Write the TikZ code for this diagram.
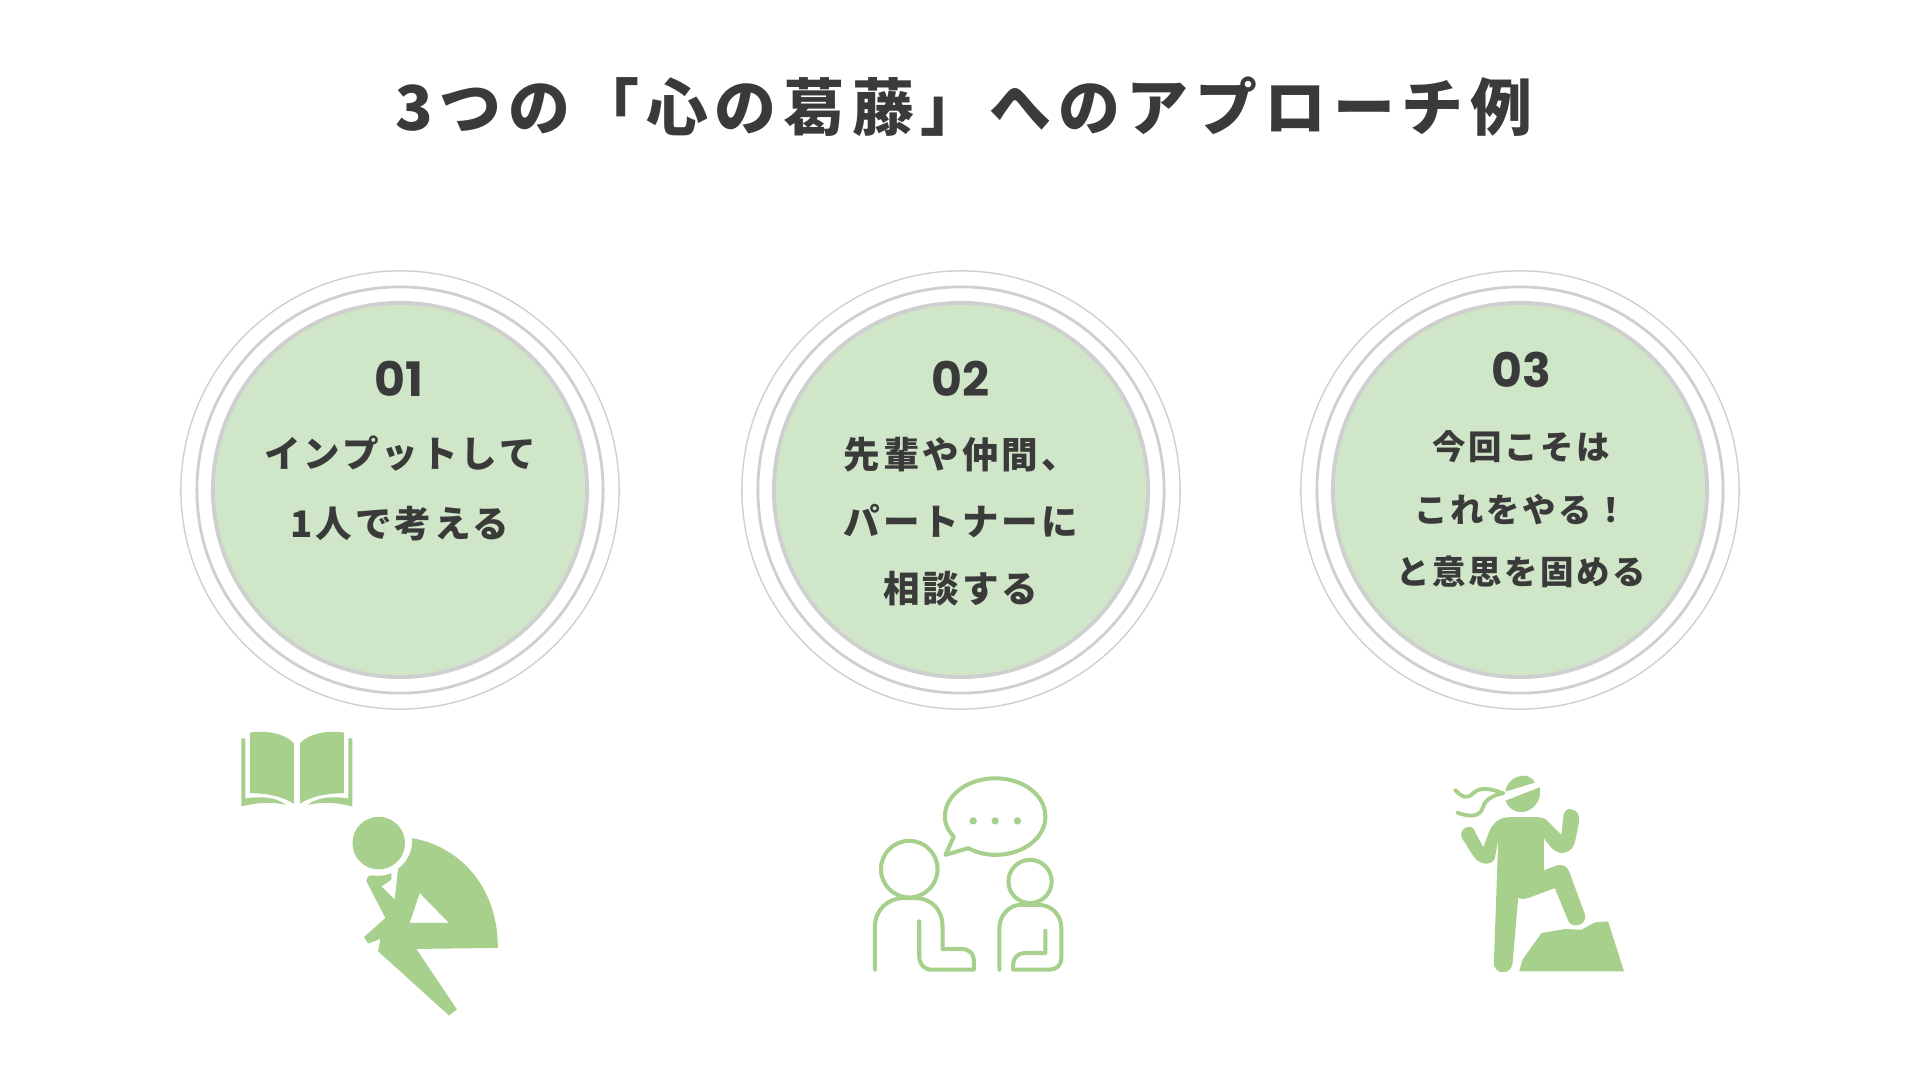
\documentclass[tikz,border=0pt]{standalone}
\usepackage{fontspec}
\setmainfont{Noto Sans CJK JP}
\newfontfamily\titlefont[LetterSpace=11]{Noto Sans CJK JP Black}
\newfontfamily\bodyfont[LetterSpace=8]{Noto Sans CJK JP Black}
\newfontfamily\numfont{Poppins}
\definecolor{leaf}{HTML}{A8D08D}
\definecolor{pale}{HTML}{D0E6C8}
\definecolor{ringgray}{HTML}{CFCFCF}
\definecolor{ink}{HTML}{3A3A3A}
\tikzset{
    thinring/.style={circle, draw=ringgray, line width=0.4pt, inner sep=0pt},
    midring/.style={circle, draw=ringgray, line width=0.8pt, inner sep=0pt},
    disc/.style={circle, draw=ringgray, fill=pale, line width=1.1pt, inner sep=0pt, minimum size=3.74cm},
    number/.style={text=ink, font=\numfont\bfseries\fontsize{13.5}{13.5}\selectfont},
    line/.style={text=ink, font=\bodyfont\fontsize{10.4}{10.4}\selectfont},
    smallline/.style={text=ink, font=\bodyfont\fontsize{9.5}{9.5}\selectfont},
    solidicon/.style={fill=leaf, draw=none},
    outlineicon/.style={draw=leaf, line width=1.15pt, line cap=round, line join=round}
}
\begin{document}
\begin{tikzpicture}[x=0.01cm, y=-0.01cm]
    \useasboundingbox (0,0) rectangle (1920,1080);

    % Title
    \node (title) [text=ink, font=\titlefont\fontsize{17.6}{17.6}\selectfont] at (964,107) {3つの「心の葛藤」へのアプローチ例};

    % Circles
    \foreach \cx/\id in {400/1, 961/2, 1520/3} {
        \node (outer\id) [thinring, minimum size=4.38cm] at (\cx,490) {};
        \node (middle\id) [midring, minimum size=4.06cm] at (\cx,490) {};
        \node (disc\id) [disc] at (\cx,490) {};
    }

    % Texts
    \node (numa) [number] at (399,379) {01};
    \node (linea) [line] at (400,454) {インプットして};
    \node (lineb) [line] at (400,524) {1人で考える};

    \node (numb) [number] at (961,379) {02};
    \node (linec) [line] at (961,455) {先輩や仲間、};
    \node (lined) [line] at (961,521) {パートナーに};
    \node (linee) [line] at (961,589) {相談する};

    \node (numc) [number] at (1521,370) {03};
    \node (linef) [smallline] at (1521,447) {今回こそは};
    \node (lineg) [smallline] at (1521,510) {これをやる！};
    \node (lineh) [smallline] at (1521,572) {と意思を固める};

    % Book and thinker
    \begin{scope}[shift={(220,710)}, x=0.00333cm, y=-0.00333cm]
        \fill[solidicon] (90,68) .. controls (135,60) and (195,70) .. (222,100) -- (222,282) .. controls (190,260) and (140,250) .. (90,250) -- cycle;
        \fill[solidicon] (372,68) .. controls (327,60) and (267,70) .. (240,100) -- (240,282) .. controls (272,260) and (322,250) .. (372,250) -- cycle;
        \fill[solidicon] (64,85) -- (76,85) -- (76,266) .. controls (125,258) and (170,262) .. (198,285) .. controls (155,275) and (110,278) .. (64,290) -- cycle;
        \fill[solidicon] (398,85) -- (386,85) -- (386,266) .. controls (337,258) and (292,262) .. (264,285) .. controls (307,275) and (352,278) .. (398,290) -- cycle;
        \fill[solidicon] (477,400) circle (79);
        \fill[solidicon, even odd rule] (577,385) .. controls (720,410) and (835,530) .. (835,715) -- (590,718) -- (712,900) -- (688,918) -- (475,725) -- (482,688) -- (445,702) -- (433,682) -- (497,625) -- (440,515) .. controls (440,500) and (450,495) .. (460,497) .. controls (480,500) and (500,497) .. (515,490) -- (515,510) -- (485,530) -- (525,570) -- (535,477) .. controls (565,455) and (580,420) .. (577,385) -- cycle
            (600,550) -- (688,640) -- (570,640) -- cycle;
    \end{scope}

    % Two people talking
    \begin{scope}[shift={(850,760)}, x=0.00333cm, y=-0.00333cm]
        \draw[outlineicon] (312,230) -- (287,285) -- (355,265) .. controls (385,280) and (410,285) .. (437,285) .. controls (520,285) and (587,235) .. (587,170) .. controls (587,105) and (520,55) .. (437,55) .. controls (355,55) and (285,105) .. (285,170) .. controls (285,195) and (297,215) .. (312,230) -- cycle;
        \foreach \dx in {370, 436, 503} {
            \fill[solidicon] (\dx,183) circle (11);
        }
        \draw[outlineicon] (178,328) circle (85);
        \draw[outlineicon] (75,630) -- (75,500) .. controls (75,450) and (115,415) .. (160,415) -- (195,415) .. controls (245,415) and (278,450) .. (278,500) -- (278,568) -- (335,568) .. controls (358,568) and (372,582) .. (372,600) -- (372,630) -- (245,630) .. controls (222,630) and (208,612) .. (208,590) -- (208,485);
        \draw[outlineicon] (541,365) circle (65);
        \draw[outlineicon] (449,630) -- (449,505) .. controls (449,465) and (480,435) .. (515,435) -- (565,435) .. controls (605,435) and (635,465) .. (635,505) -- (635,595) .. controls (635,617) and (620,630) .. (600,630) -- (490,630) -- (490,615) .. controls (490,595) and (505,580) .. (525,580) -- (587,580) -- (587,513);
    \end{scope}

    % Climber on a rock
    \begin{scope}[shift={(1440,760)}, x=0.00333cm, y=-0.00333cm]
        \fill[solidicon] (197,122) -- (300,82) .. controls (308,125) and (275,158) .. (240,157) .. controls (220,154) and (203,142) .. (197,122) -- cycle;
        \fill[solidicon] (197,95) .. controls (200,50) and (265,28) .. (285,68) -- cycle;
        \draw[leaf, line width=1.1pt, line cap=round] (45,90) .. controls (65,110) and (80,120) .. (100,100) .. controls (120,80) and (150,85) .. (190,100);
        \draw[leaf, line width=1.1pt, line cap=round] (52,158) .. controls (85,170) and (120,175) .. (130,140) .. controls (135,120) and (160,105) .. (190,100);
        \fill[solidicon] (205,172) -- (295,172) .. controls (310,172) and (322,180) .. (330,190) -- (365,225) -- (370,175) .. controls (370,150) and (385,146) .. (393,148) .. controls (412,150) and (420,165) .. (418,185) -- (407,240) .. controls (402,270) and (380,282) .. (360,279) .. controls (345,274) and (335,265) .. (330,258) -- (312,235) -- (312,332) -- (350,317) .. controls (368,312) and (382,320) .. (388,335) -- (436,465) .. controls (440,480) and (428,497) .. (410,497) .. controls (395,497) and (387,490) .. (383,478) -- (345,385) -- (265,415) .. controls (255,419) and (245,418) .. (235,415) -- (218,610) .. controls (215,628) and (205,638) .. (190,638) .. controls (172,638) and (160,625) .. (162,605) -- (175,240) -- (165,295) .. controls (160,307) and (150,312) .. (140,312) .. controls (120,312) and (103,297) .. (96,282) -- (66,235) .. controls (58,213) and (73,201) .. (87,201) .. controls (99,201) and (105,210) .. (107,220) -- (130,262) -- (148,215) .. controls (158,190) and (180,172) .. (205,172) -- cycle;
        \fill[solidicon] (238,635) -- (248,600) -- (305,520) -- (375,508) -- (425,510) -- (465,488) -- (505,485) -- (553,635) -- cycle;
    \end{scope}
\end{tikzpicture}
\end{document}
